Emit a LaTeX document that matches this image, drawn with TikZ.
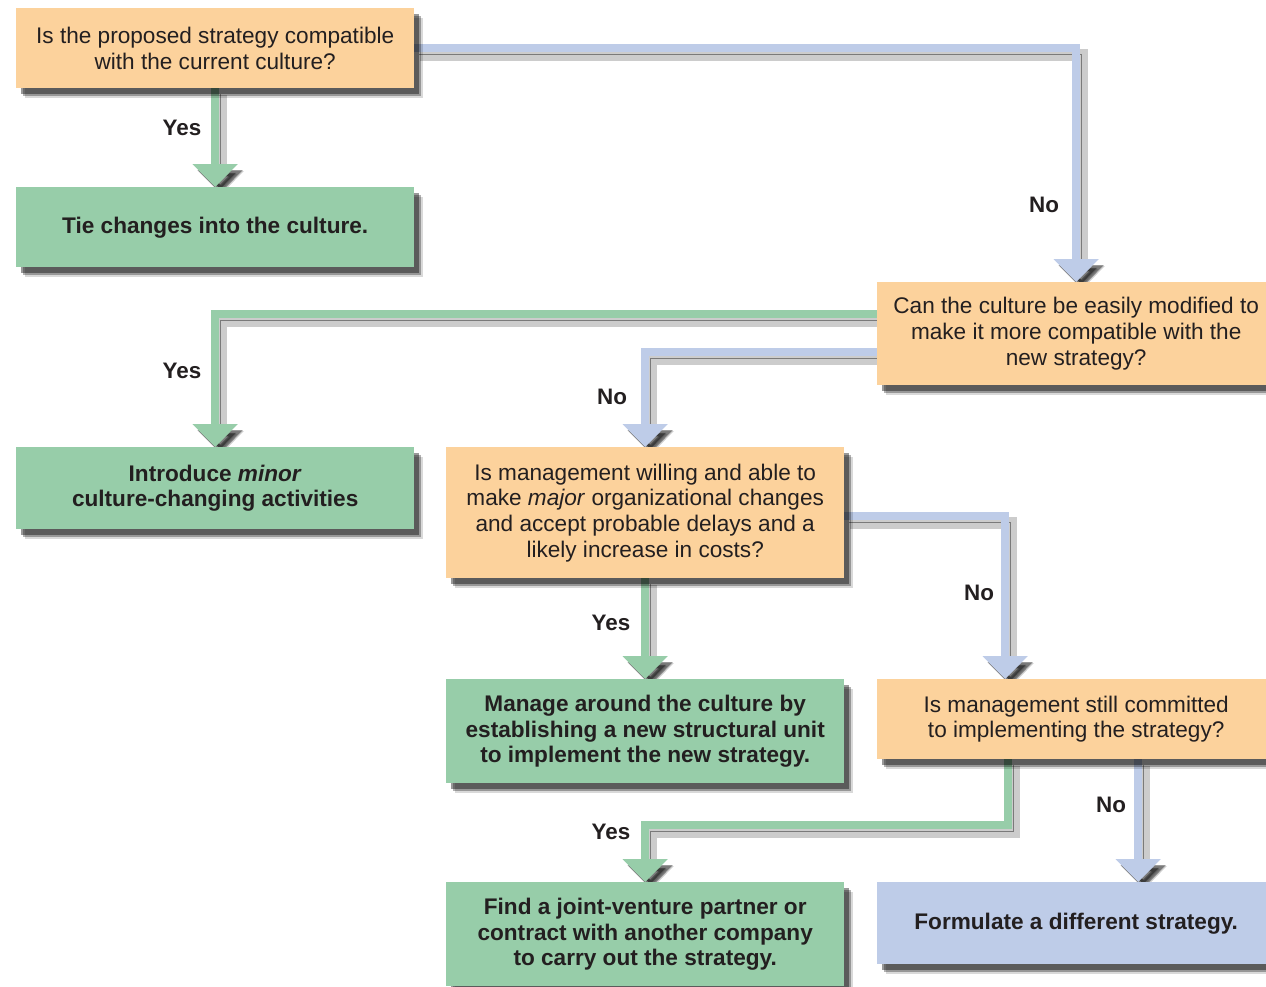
\documentclass[tikz,border=0pt]{standalone}
\usepackage{fontspec}
\setmainfont{Liberation Sans}
\usetikzlibrary{arrows.meta,shadows,backgrounds,calc}
\definecolor{qorange}{HTML}{FCD29C}
\definecolor{qgreen}{HTML}{97CDA9}
\definecolor{qblue}{HTML}{BECCE8}
\definecolor{txt}{HTML}{231F20}
\begin{document}
\begin{tikzpicture}[x=1pt,y=-1pt,
  box/.style={rectangle, minimum width=398pt, inner sep=0pt, align=center, text=txt,
    anchor=north west,
    drop shadow={shadow xshift=9pt,shadow yshift=-10pt,fill=black,opacity=.15},
    drop shadow={shadow xshift=7pt,shadow yshift=-8pt,fill=black,opacity=.3},
    drop shadow={shadow xshift=5pt,shadow yshift=-6pt,fill=black,opacity=.4}},
  qbox/.style={box,fill=qorange,font=\fontsize{22.6}{25.7}\selectfont},
  gbox/.style={box,fill=qgreen,font=\bfseries\fontsize{22.6}{25.5}\selectfont},
  bbox/.style={box,fill=qblue,font=\bfseries\fontsize{22.6}{25.5}\selectfont},
  lbl/.style={font=\bfseries\fontsize{22.4}{24}\selectfont,text=txt},
  conn/.style={line width=8pt,-{Triangle[width=44pt,length=23pt]},
    preaction={draw=black,opacity=.2,line width=12pt,transform canvas={shift={(6pt,-7pt)}}},
    preaction={draw=black,opacity=.4,transform canvas={shift={(5pt,-6pt)}}}},
  gconn/.style={conn,draw=qgreen},
  bconn/.style={conn,draw=qblue}
]
\useasboundingbox (0,0) rectangle (1266,986);

\node[qbox,minimum height=80pt] (b1) at (16,8) {Is the proposed strategy compatible\\with the current culture?};
\node[gbox,minimum height=80pt] (b2) at (16,187) {Tie changes into the culture.};
\node[qbox,minimum height=103pt] (b3) at (877,282) {Can the culture be easily modified to\\make it more compatible with the\\new strategy?};
\node[gbox,minimum height=82pt] (b4) at (16,447) {Introduce \textit{minor}\\culture-changing activities};
\node[qbox,minimum height=131pt] (b5) at (446,447) {Is management willing and able to\\make \textit{major} organizational changes\\and accept probable delays and a\\likely increase in costs?};
\node[gbox,minimum height=104pt] (b6) at (446,679) {Manage around the culture by\\establishing a new structural unit\\to implement the new strategy.};
\node[qbox,minimum height=80pt] (b7) at (877,679) {Is management still committed\\to implementing the strategy?};
\node[gbox,minimum height=104pt] (b8) at (446,882) {Find a joint-venture partner or\\contract with another company\\to carry out the strategy.};
\node[bbox,minimum height=82pt] (b9) at (877,882) {Formulate a different strategy.};

\begin{scope}[on background layer]
\draw[gconn] (b1.south) -- (b2.north);
\draw[bconn] (b1.east) -| (b3.north);
\draw[gconn] ([yshift=20pt]b3.west) -| (b4.north);
\draw[bconn] ([yshift=-18pt]b3.west) -| (b5.north);
\draw[gconn] (b5.south) -- (b6.north);
\draw[bconn] ([yshift=-3pt]b5.east) -| ([xshift=-71pt]b7.north);
\draw[gconn] ([xshift=-68pt]b7.south) -- ++(0,66) -| (b8.north);
\draw[bconn] ([xshift=62pt]b7.south) -- ([xshift=62pt]b9.north);
\end{scope}

\node[lbl] (y1) at (182,128) {Yes};
\node[lbl] (n1) at (1044,205) {No};
\node[lbl] (y2) at (182,371) {Yes};
\node[lbl] (n2) at (612,397) {No};
\node[lbl] (y3) at (611,623) {Yes};
\node[lbl] (n3) at (979,593) {No};
\node[lbl] (y4) at (611,832) {Yes};
\node[lbl] (n4) at (1111,805) {No};
\end{tikzpicture}
\end{document}
